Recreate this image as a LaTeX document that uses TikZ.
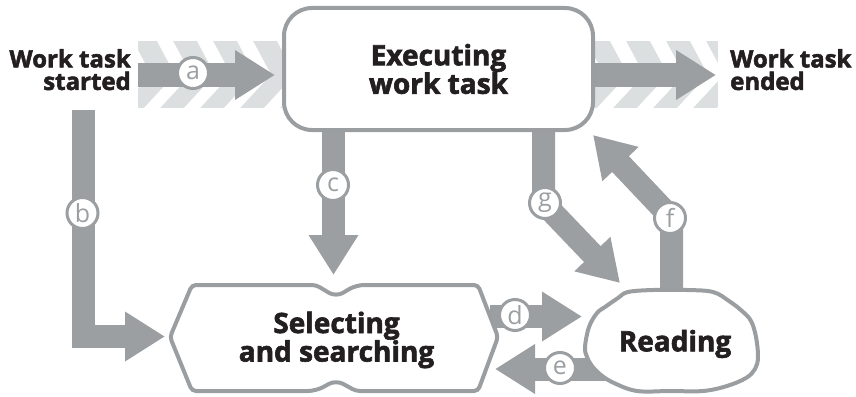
\documentclass[tikz,border=0pt]{standalone}
\usepackage{fontspec}
\setmainfont{Open Sans}[BoldFeatures={FakeBold=2.2}]
\usetikzlibrary{arrows.meta}
\definecolor{arr}{HTML}{9B9FA2}
\definecolor{bord}{HTML}{9A9EA1}
\definecolor{bandc}{HTML}{DCDFE0}
\definecolor{ink}{HTML}{231F20}
\tikzset{
  shaft/.style={draw=arr, line width=23pt, line cap=butt, line join=miter,
    -{Triangle[length=40pt,width=47pt]}},
  boxline/.style={draw=bord, line width=4pt, fill=white},
  lbl/.style={text=ink, font=\bfseries\fontsize{28}{28.5}\selectfont, align=center, inner sep=0pt},
  endlbl/.style={text=ink, font=\bfseries\fontsize{24}{22.5}\selectfont, inner sep=0pt},
  circ/.style={circle, draw=arr, line width=3pt, fill=white, minimum size=31pt,
    inner sep=0pt, text=arr, font=\fontsize{25}{25}\selectfont},
  stripe/.style={fill=white}
}
\begin{document}
\begin{tikzpicture}[x=1pt,y=-1pt]
\useasboundingbox (0,0) rectangle (856,396);
% striped bands
\begin{scope}
  \clip (138,41) rectangle (282,108);
  \fill[bandc] (138,41) rectangle (282,108);
  \foreach \x in {117,157,197,237,277}
    \fill[stripe] (\x,41) -- ++(16,0) -- (\x+34,74.5) -- (\x+3,108) -- (\x-13,108) -- (\x+18,74.5) -- cycle;
\end{scope}
\begin{scope}
  \clip (593,41) rectangle (718,108);
  \fill[bandc] (593,41) rectangle (718,108);
  \foreach \x in {570,610,650,690,730}
    \fill[stripe] (\x,41) -- ++(16,0) -- (\x+34,74.5) -- (\x+3,108) -- (\x-13,108) -- (\x+18,74.5) -- cycle;
\end{scope}
% coordinates
\coordinate (aS) at (138,75);   \coordinate (aE) at (275,75);
\coordinate (zS) at (590,75);   \coordinate (zE) at (716,75);
\coordinate (bS) at (83.5,110); \coordinate (bK) at (83.5,336.5); \coordinate (bE) at (165,336.5);
\coordinate (cS) at (333.5,125); \coordinate (cE) at (333.5,275);
\coordinate (dS) at (490,316.5); \coordinate (dE) at (582,316.5);
\coordinate (eS) at (610,369);  \coordinate (eE) at (495,369);
\coordinate (gS) at (543.5,125); \coordinate (gK) at (543.5,203); \coordinate (gE) at (620,283);
\coordinate (fS) at (671.5,300); \coordinate (fK) at (671.5,218); \coordinate (fE) at (593,135);
% arrows
\draw[shaft] (aS) -- (aE);
\draw[shaft] (zS) -- (zE);
\draw[shaft] (bS) -- (bK) -- (bE);
\draw[shaft] (cS) -- (cE);
\draw[shaft] (dS) -- (dE);
\draw[shaft] (eS) -- (eE);
\draw[shaft] (gS) -- (gK) -- (gE);
\draw[shaft] (fS) -- (fK) -- (fE);
% executing box
\node[boxline, rounded corners=28pt, minimum width=309pt, minimum height=122pt, inner sep=0pt] (exec) at (438.5,69) {};
\node[lbl] (execT) at (exec.center) {Executing\\work task};
% selecting box
\draw[boxline, rounded corners=4pt] (170,337) -- (192,285) -- (316,285) [rounded corners=8pt]-- (336,297) -- (356,285) [rounded corners=4pt]-- (478,285) -- (498,337) -- (478,391) -- (356,391) [rounded corners=8pt]-- (336,380) -- (316,391) [rounded corners=4pt]-- (192,391) -- cycle;
\node[lbl] (sel) at (336.5,340) {Selecting\\and searching};
% reading cloud
\draw[boxline] plot[smooth cycle, tension=0.6] coordinates {(585,347) (589,327) (597,313) (605,307) (618,298) (628,292) (653,290) (687,290) (713,292) (729,301) (742,311) (751,321) (756,337) (758,357) (755,369) (746,378) (727,386) (703,391) (670,391) (637,391) (614,383) (601,375) (592,366) (587,357)};
\node[lbl] (read) at (675,344) {Reading};
% end labels
\node[endlbl, align=right, anchor=north east] (start) at (131,49) {Work task\\started};
\node[endlbl, align=left, anchor=north west] (ended) at (730,49) {Work task\\ended};
% circles
\node[circ] (ca) at (193,73) {a};
\node[circ] (cb) at (82.5,213) {b};
\node[circ] (cc) at (333,185) {c};
\node[circ] (cd) at (515,315) {d};
\node[circ] (ce) at (560,368) {e};
\node[circ] (cf) at (670,218) {f};
\node[circ] (cg) at (545,203) {g};
\end{tikzpicture}
\end{document}
